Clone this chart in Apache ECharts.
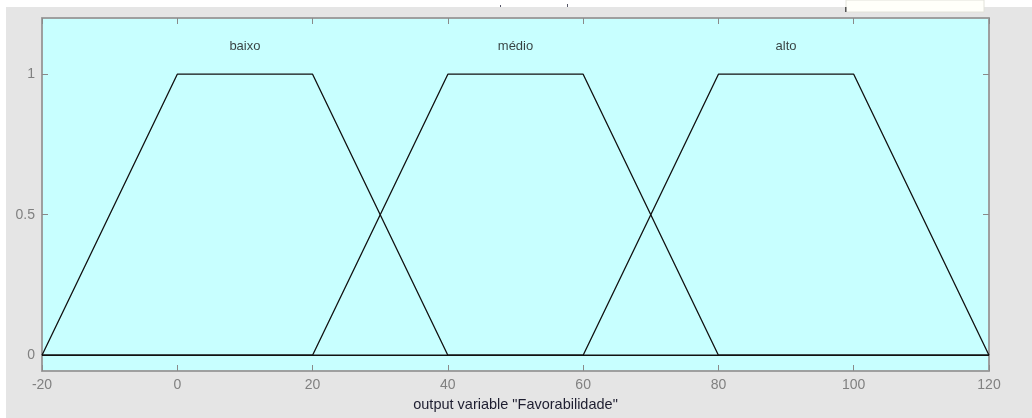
<!DOCTYPE html>
<html>
<head>
<meta charset="utf-8">
<script src="https://cdn.jsdelivr.net/npm/echarts@6/dist/echarts.min.js"></script>
<style>
  html, body { margin: 0; padding: 0; background: #e5e5e5; }
  #chart { width: 1032px; height: 418px; }
</style>
</head>
<body>
<div id="chart"></div>
<script>
// Membership functions of the output variable "Favorabilidade" (trapezoids)
const xTicks = [-20, 0, 20, 40, 60, 80, 100, 120];
const yTicks = [0, 0.5, 1];
const mfNames = ['baixo', 'médio', 'alto'];
const mfX = [
  [-20, 0, 20, 40, 120],
  [-20, 20, 40, 60, 80, 120],
  [-20, 60, 80, 100, 120]
];
const mfY = [
  [0, 1, 1, 0, 0],
  [0, 0, 1, 1, 0, 0],
  [0, 0, 1, 1, 0]
];
const mfLabelX = [10, 50, 90];
const mfLabelY = 1.1;
const xTitle = 'output variable "Favorabilidade"';

const chart = echarts.init(document.getElementById('chart'), null, { renderer: 'canvas' });

const frame = '#9a9a9a';
const tickColor = '#8a8a8a';
const labelColor = '#808080';
const font = 'Liberation Sans, Arial, sans-serif';

const lineSeries = mfNames.map((name, i) => ({
  type: 'line',
  name: name,
  xAxisIndex: 0,
  yAxisIndex: 0,
  data: mfX[i].map((x, j) => [x, mfY[i][j]]),
  symbol: 'none',
  lineStyle: { color: '#111', width: 1.3 },
  silent: true,
  z: 3
}));

const labelSeries = {
  type: 'scatter',
  xAxisIndex: 0,
  yAxisIndex: 0,
  symbolSize: 0,
  data: mfNames.map((name, i) => ({ value: [mfLabelX[i], mfLabelY], name: name })),
  label: {
    show: true,
    position: 'inside',
    formatter: p => p.name,
    color: '#111',
    fontFamily: font,
    fontSize: 13
  },
  silent: true,
  z: 4
};

const option = {
  backgroundColor: '#e5e5e5',
  animation: false,
  grid: {
    left: 42, right: 1032 - 989, top: 18, bottom: 418 - 371,
    show: true,
    backgroundColor: '#c8ffff',
    borderColor: frame,
    borderWidth: 1.5
  },
  xAxis: [
    {
      type: 'value', position: 'bottom',
      min: xTicks[0], max: xTicks[xTicks.length - 1], interval: 20,
      axisLine: { show: true, onZero: false, lineStyle: { color: frame, width: 1.5 } },
      axisTick: { show: true, inside: true, length: 6, lineStyle: { color: tickColor } },
      axisLabel: { color: labelColor, fontFamily: font, fontSize: 14, margin: 7 },
      splitLine: { show: false },
      name: xTitle,
      nameLocation: 'middle',
      nameGap: 26,
      nameTextStyle: { color: '#1e1e30', fontFamily: font, fontSize: 14.5 }
    },
    {
      type: 'value', position: 'top',
      min: xTicks[0], max: xTicks[xTicks.length - 1], interval: 20,
      axisLine: { show: true, onZero: false, lineStyle: { color: frame, width: 1.5 } },
      axisTick: { show: true, inside: true, length: 6, lineStyle: { color: tickColor } },
      axisLabel: { show: false },
      splitLine: { show: false }
    }
  ],
  yAxis: [
    {
      type: 'value', position: 'left',
      min: -0.056, max: 1.2,
      axisLine: { show: true, onZero: false, lineStyle: { color: frame, width: 1.5 } },
      axisTick: { show: true, inside: true, length: 6, customValues: yTicks, lineStyle: { color: tickColor } },
      axisLabel: { color: labelColor, fontFamily: font, fontSize: 14, margin: 7, customValues: yTicks },
      splitLine: { show: false }
    },
    {
      type: 'value', position: 'right',
      min: -0.056, max: 1.2,
      axisLine: { show: true, onZero: false, lineStyle: { color: frame, width: 1.5 } },
      axisTick: { show: true, inside: true, length: 6, customValues: yTicks, lineStyle: { color: tickColor } },
      axisLabel: { show: false, customValues: yTicks },
      splitLine: { show: false }
    }
  ],
  series: lineSeries.concat([labelSeries]),
  graphic: [
    { type: 'rect', shape: { x: 0, y: 0, width: 1032, height: 7 }, style: { fill: '#ffffff' }, silent: true },
    { type: 'rect', shape: { x: 0, y: 0, width: 6, height: 418 }, style: { fill: '#ffffff' }, silent: true },
    { type: 'rect', shape: { x: 846, y: 0, width: 138, height: 12 }, style: { fill: '#fffffa', stroke: '#e2e2da', lineWidth: 1 }, silent: true },
    { type: 'rect', shape: { x: 845, y: 7, width: 1.5, height: 5 }, style: { fill: '#555' }, silent: true },
    { type: 'rect', shape: { x: 500, y: 5, width: 1, height: 2 }, style: { fill: '#556' }, silent: true },
    { type: 'rect', shape: { x: 567, y: 4, width: 1, height: 3 }, style: { fill: '#556' }, silent: true }
  ]
};

chart.setOption(option);
</script>
</body>
</html>
